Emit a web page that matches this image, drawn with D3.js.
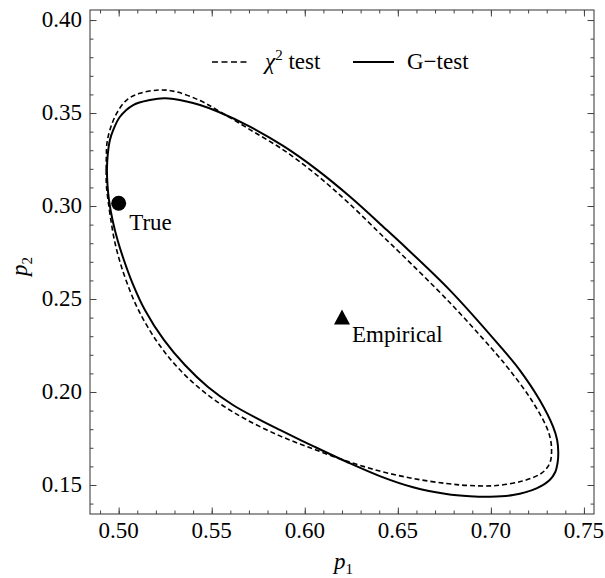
<!DOCTYPE html>
<html>
<head>
<meta charset="utf-8">
<script src="https://cdn.jsdelivr.net/npm/d3@7"></script>
</head>
<body style="margin:0">
<svg id="fig" width="605" height="578"></svg>
<script>
// ---- data ----
const xTicks = [0.50, 0.55, 0.60, 0.65, 0.70, 0.75];
const yTicks = [0.15, 0.20, 0.25, 0.30, 0.35, 0.40];
const xMinor = d3.range(49, 76).map(v => v / 100);
const yMinor = d3.range(14, 41).map(v => v / 100);

// chi-square test confidence region (p1, p2)
const chi2P1 = [0.4934,0.4933,0.4934,0.4937,0.4953,0.4989,0.5043,0.5114,0.5222,0.5311,0.5437,0.5535,0.5705,0.5884,0.6063,0.6242,0.6430,0.6511,0.6779,0.7003,0.7101,0.7218,0.7298,0.7321,0.7326,0.7319,0.7297,0.7262,0.7173,0.7030,0.6887,0.6761,0.6582,0.6403,0.6224,0.6045,0.5866,0.5689,0.5555,0.5426,0.5305,0.5200,0.5106,0.5045,0.5004,0.4977,0.4958,0.4943];
const chi2P2 = [0.3113,0.3194,0.3274,0.3337,0.3409,0.3498,0.3570,0.3606,0.3624,0.3614,0.3567,0.3513,0.3411,0.3302,0.3168,0.3010,0.2827,0.2749,0.2481,0.2235,0.2118,0.1957,0.1814,0.1742,0.1677,0.1624,0.1586,0.1557,0.1522,0.1497,0.1497,0.1508,0.1535,0.1575,0.1629,0.1694,0.1764,0.1850,0.1930,0.2027,0.2145,0.2280,0.2441,0.2586,0.2710,0.2817,0.2925,0.3032];

// G-test confidence region (p1, p2)
const gP1 = [0.4940,0.4937,0.4941,0.4953,0.4971,0.5007,0.5078,0.5168,0.5249,0.5365,0.5437,0.5535,0.5705,0.5884,0.6063,0.6242,0.6430,0.6511,0.6779,0.7057,0.7155,0.7262,0.7334,0.7356,0.7362,0.7359,0.7346,0.7316,0.7245,0.7119,0.6994,0.6887,0.6761,0.6582,0.6403,0.6224,0.6045,0.5866,0.5759,0.5614,0.5480,0.5356,0.5243,0.5141,0.5074,0.5028,0.4994,0.4967,0.4948];
const gP2 = [0.3113,0.3194,0.3274,0.3355,0.3409,0.3480,0.3543,0.3570,0.3579,0.3562,0.3543,0.3507,0.3427,0.3323,0.3197,0.3051,0.2881,0.2806,0.2548,0.2237,0.2118,0.1957,0.1814,0.1742,0.1677,0.1624,0.1570,0.1527,0.1482,0.1446,0.1437,0.1440,0.1452,0.1488,0.1548,0.1625,0.1709,0.1796,0.1850,0.1930,0.2027,0.2145,0.2280,0.2441,0.2586,0.2710,0.2817,0.2925,0.3032];

const truePoint = [0.500, 0.3015];
const empPoint = [0.620, 0.240];
const legendLabels = ["test", "G\u2212test"];

// ---- layout ----
const FF = "'Liberation Serif'";
const svg = d3.select("#fig");
const L = 90, R = 594, T = 10, B = 514;
const x = d3.scaleLinear().domain([0.4846, 0.7554]).range([L, R]);
const y = d3.scaleLinear().domain([0.1344, 0.4054]).range([B, T]);
const frameColor = "#444";
const FS = 23;

// ticks (inward, on all sides), drawn with d3 axes
const g = svg.append("g");
function tickSet(axisGen, vals, len, transform) {
  const a = g.append("g").attr("transform", transform)
    .call(axisGen.tickValues(vals).tickSize(-len).tickFormat(""));
  a.select(".domain").remove();
  a.selectAll("text").remove();
  a.selectAll("line").attr("stroke", frameColor).attr("stroke-width", 1);
}
tickSet(d3.axisBottom(x), xMinor, 3.5, `translate(0,${B})`);
tickSet(d3.axisBottom(x), xTicks, 6.5, `translate(0,${B})`);
tickSet(d3.axisTop(x), xMinor, 3.5, `translate(0,${T})`);
tickSet(d3.axisTop(x), xTicks, 6.5, `translate(0,${T})`);
tickSet(d3.axisLeft(y), yMinor, 3.5, `translate(${L},0)`);
tickSet(d3.axisLeft(y), yTicks, 6.5, `translate(${L},0)`);
tickSet(d3.axisRight(y), yMinor, 3.5, `translate(${R},0)`);
tickSet(d3.axisRight(y), yTicks, 6.5, `translate(${R},0)`);

// frame
svg.append("rect").attr("x", L).attr("y", T).attr("width", R - L).attr("height", B - T)
  .attr("fill", "none").attr("stroke", frameColor).attr("stroke-width", 1.1);

// tick labels
svg.selectAll("text.xl").data(xTicks).join("text").attr("class", "xl")
  .attr("x", d => x(d)).attr("y", B + 23.5).attr("text-anchor", "middle")
  .attr("font-size", FS).attr("font-family", FF).text(d => d.toFixed(2));
svg.selectAll("text.yl").data(yTicks).join("text").attr("class", "yl")
  .attr("x", L - 8).attr("y", d => y(d) + 7).attr("text-anchor", "end")
  .attr("font-size", FS).attr("font-family", FF).text(d => d.toFixed(2));

// axis titles
const xt = svg.append("text").attr("x", 334).attr("y", 569).attr("font-size", 23).attr("font-family", FF);
xt.append("tspan").attr("font-style", "italic").text("p");
xt.append("tspan").attr("font-size", 15).attr("dy", 5).text("1");
const yt = svg.append("text").attr("transform", "translate(27,276) rotate(-90)").attr("font-size", 23).attr("font-family", FF);
yt.append("tspan").attr("font-style", "italic").text("p");
yt.append("tspan").attr("font-size", 15).attr("dy", 5).text("2");

// curves
const line = d3.line().x(d => x(d[0])).y(d => y(d[1])).curve(d3.curveCatmullRomClosed.alpha(0.5));
const chiPts = chi2P1.map((v, i) => [v, chi2P2[i]]);
const gPts = gP1.map((v, i) => [v, gP2[i]]);
svg.append("path").attr("d", line(chiPts)).attr("fill", "none")
  .attr("stroke", "#000").attr("stroke-width", 1.6).attr("stroke-dasharray", "5,3");
svg.append("path").attr("d", line(gPts)).attr("fill", "none")
  .attr("stroke", "#000").attr("stroke-width", 2);

// points
svg.append("circle").attr("cx", x(truePoint[0])).attr("cy", y(truePoint[1])).attr("r", 7.5).attr("fill", "#000");
const ex = x(empPoint[0]), ey = y(empPoint[1]);
svg.append("path").attr("d", `M${ex},${ey - 8}L${ex + 8},${ey + 7}L${ex - 8},${ey + 7}Z`).attr("fill", "#000");
svg.append("text").attr("x", x(truePoint[0]) + 10.5).attr("y", y(truePoint[1]) + 27)
  .attr("font-size", FS).attr("font-family", FF).text("True");
svg.append("text").attr("x", ex + 10).attr("y", ey + 24)
  .attr("font-size", FS).attr("font-family", FF).text("Empirical");

// legend
const ly = 62;
svg.append("line").attr("x1", 212).attr("x2", 249).attr("y1", ly).attr("y2", ly)
  .attr("stroke", "#000").attr("stroke-width", 1.6).attr("stroke-dasharray", "6,3.5");
const lt = svg.append("text").attr("x", 265).attr("y", ly + 6.5).attr("font-size", FS).attr("font-family", FF);
lt.append("tspan").attr("font-style", "italic").text("\u03C7");
lt.append("tspan").attr("font-size", 15).attr("dy", -9).text("2");
lt.append("tspan").attr("dy", 9).text("\u00A0" + legendLabels[0]);
svg.append("line").attr("x1", 353).attr("x2", 394).attr("y1", ly).attr("y2", ly)
  .attr("stroke", "#000").attr("stroke-width", 2);
svg.append("text").attr("x", 407).attr("y", ly + 6.5).attr("font-size", FS).attr("font-family", FF).text(legendLabels[1]);
</script>
</body>
</html>
